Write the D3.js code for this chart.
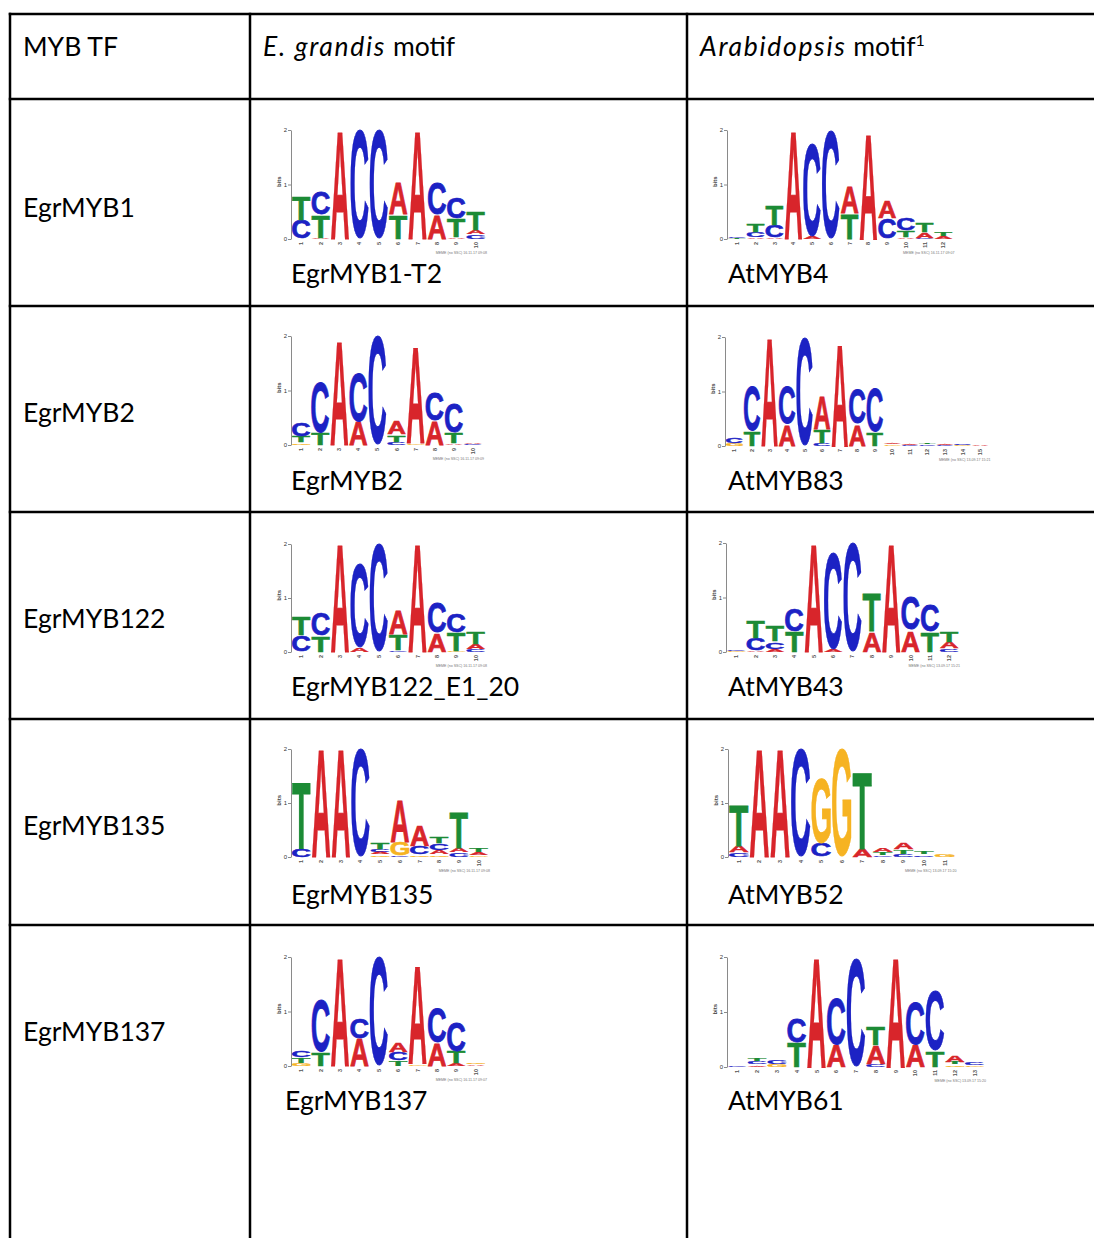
<!DOCTYPE html>
<html>
<head>
<meta charset="utf-8">
<script src="https://cdn.jsdelivr.net/npm/d3@7"></script>
<style>
  body { margin: 0; background: #fff; }
  svg { display: block; }
  .cell-text { font-family: Lato, "Open Sans", sans-serif; font-size: 26.5px; fill: #000; }
  .cell-text .it { font-style: italic; letter-spacing: 1.7px; }
  .logo .axis path, .logo .axis line { stroke: #8a8a8a; }
  .logo .axis text { font-family: "Liberation Sans", Arial, sans-serif; font-size: 6px; fill: #333; }
</style>
</head>
<body>
<script>
// table text
const rowNames = ["EgrMYB1", "EgrMYB2", "EgrMYB122", "EgrMYB135", "EgrMYB137"];
const egrMotifNames = ["EgrMYB1-T2", "EgrMYB2", "EgrMYB122_E1_20", "EgrMYB135", "EgrMYB137"];
const atMotifNames = ["AtMYB4", "AtMYB83", "AtMYB43", "AtMYB52", "AtMYB61"];
const bitTicks = [0, 1, 2];

// motif columns, letters listed bottom -> top with height in bits
const egrMYB1T2 = [
  [["C", 0.35], ["T", 0.43]],
  [["A", 0.02], ["T", 0.42], ["C", 0.43]],
  [["A", 2.0]],
  [["C", 2.0]],
  [["C", 2.0]],
  [["T", 0.45], ["A", 0.58]],
  [["A", 2.0]],
  [["A", 0.45], ["C", 0.6]],
  [["A", 0.03], ["T", 0.35], ["C", 0.4]],
  [["C", 0.08], ["A", 0.08], ["T", 0.34]]
];
const atMYB4 = [
  [["T", 0.02], ["C", 0.03]],
  [["A", 0.03], ["C", 0.1], ["T", 0.15]],
  [["A", 0.03], ["C", 0.22], ["T", 0.37]],
  [["A", 2.0]],
  [["A", 0.05], ["C", 1.7]],
  [["C", 1.98]],
  [["T", 0.47], ["A", 0.49]],
  [["A", 1.95]],
  [["C", 0.38], ["A", 0.32]],
  [["A", 0.03], ["T", 0.12], ["C", 0.23]],
  [["C", 0.02], ["A", 0.1], ["T", 0.18]],
  [["A", 0.05], ["T", 0.07]]
];
const egrMYB2 = [
  [["G", 0.04], ["T", 0.12], ["C", 0.26]],
  [["T", 0.22], ["C", 0.94]],
  [["A", 1.93]],
  [["A", 0.43], ["C", 0.91]],
  [["C", 2.0]],
  [["C", 0.05], ["T", 0.14], ["A", 0.24]],
  [["G", 0.03], ["A", 1.77]],
  [["A", 0.45], ["C", 0.52]],
  [["A", 0.03], ["T", 0.2], ["C", 0.55]],
  [["C", 0.02], ["A", 0.03]]
];
const atMYB83 = [
  [["G", 0.05], ["C", 0.1]],
  [["T", 0.28], ["C", 0.84]],
  [["A", 2.0]],
  [["A", 0.4], ["C", 0.69]],
  [["C", 1.98]],
  [["C", 0.05], ["T", 0.25], ["A", 0.6]],
  [["A", 1.87]],
  [["A", 0.4], ["C", 0.65]],
  [["T", 0.26], ["C", 0.8]],
  [["G", 0.03], ["A", 0.04]],
  [["C", 0.02], ["A", 0.04]],
  [["C", 0.03], ["T", 0.04]],
  [["C", 0.02], ["A", 0.04]],
  [["G", 0.02], ["C", 0.04]],
  [["A", 0.03]]
];
const egrMYB122 = [
  [["C", 0.3], ["T", 0.35]],
  [["T", 0.3], ["C", 0.42]],
  [["A", 2.0]],
  [["A", 0.08], ["C", 1.55]],
  [["C", 2.0]],
  [["C", 0.03], ["T", 0.3], ["A", 0.44]],
  [["A", 2.0]],
  [["A", 0.35], ["C", 0.58]],
  [["G", 0.02], ["T", 0.34], ["C", 0.35]],
  [["C", 0.05], ["A", 0.1], ["T", 0.22]]
];
const atMYB43 = [
  [["G", 0.02], ["C", 0.03]],
  [["A", 0.03], ["C", 0.22], ["T", 0.32]],
  [["A", 0.05], ["C", 0.14], ["T", 0.3]],
  [["T", 0.38], ["C", 0.42]],
  [["A", 2.0]],
  [["A", 0.05], ["C", 1.78]],
  [["C", 2.0]],
  [["A", 0.37], ["T", 0.7]],
  [["A", 2.0]],
  [["A", 0.4], ["C", 0.61]],
  [["T", 0.37], ["C", 0.49]],
  [["C", 0.06], ["A", 0.12], ["T", 0.2]]
];
const egrMYB135 = [
  [["C", 0.15], ["T", 1.24]],
  [["A", 2.0]],
  [["A", 2.0]],
  [["C", 2.0]],
  [["G", 0.04], ["A", 0.05], ["C", 0.05], ["T", 0.12]],
  [["C", 0.02], ["G", 0.26], ["A", 0.77]],
  [["G", 0.04], ["C", 0.16], ["A", 0.4]],
  [["G", 0.04], ["A", 0.08], ["C", 0.14], ["T", 0.12]],
  [["C", 0.08], ["A", 0.08], ["T", 0.65]],
  [["G", 0.03], ["A", 0.06], ["T", 0.08]]
];
const atMYB52 = [
  [["C", 0.08], ["A", 0.12], ["T", 0.75]],
  [["A", 2.0]],
  [["A", 2.0]],
  [["C", 2.0]],
  [["C", 0.25], ["G", 1.2]],
  [["G", 2.0]],
  [["A", 0.15], ["T", 1.42]],
  [["C", 0.03], ["T", 0.05], ["A", 0.08]],
  [["C", 0.05], ["T", 0.09], ["A", 0.13]],
  [["C", 0.04], ["T", 0.05]],
  [["G", 0.06]]
];
const egrMYB137 = [
  [["G", 0.05], ["T", 0.1], ["C", 0.13]],
  [["T", 0.25], ["C", 0.95]],
  [["A", 2.0]],
  [["A", 0.5], ["C", 0.38]],
  [["C", 2.0]],
  [["T", 0.1], ["C", 0.15], ["A", 0.18]],
  [["G", 0.03], ["A", 1.8]],
  [["A", 0.42], ["C", 0.63]],
  [["A", 0.05], ["T", 0.22], ["C", 0.55]],
  [["A", 0.03], ["G", 0.04]]
];
const atMYB61 = [
  [["C", 0.01]],
  [["A", 0.04], ["C", 0.06], ["T", 0.06]],
  [["G", 0.05], ["C", 0.08]],
  [["T", 0.45], ["C", 0.43]],
  [["A", 2.0]],
  [["A", 0.4], ["C", 0.84]],
  [["C", 1.95]],
  [["C", 0.05], ["A", 0.35], ["T", 0.33]],
  [["A", 2.0]],
  [["A", 0.4], ["C", 0.78]],
  [["T", 0.3], ["C", 1.1]],
  [["G", 0.04], ["T", 0.05], ["A", 0.12]],
  [["G", 0.03], ["C", 0.06]]
];
const stampTexts = [
  "MEME (no SSC) 16.11.17 09:08", "MEME (no SSC) 16.11.17 09:07",
  "MEME (no SSC) 16.11.17 09:09", "MEME (no SSC) 13.09.17 15:21",
  "MEME (no SSC) 16.11.17 09:08", "MEME (no SSC) 13.09.17 15:21",
  "MEME (no SSC) 16.11.17 09:08", "MEME (no SSC) 13.09.17 15:20",
  "MEME (no SSC) 16.11.17 09:07", "MEME (no SSC) 13.09.17 15:20"
];

const letterColor = { A: "#d8252b", C: "#1c22c4", G: "#f6b322", T: "#1c8b35" };

// layout
const width = 1094, height = 1238;
const hLines = [14, 99, 306, 512, 719, 925];
const vLines = [10, 250, 687];
const rowBaselines = [217, 422, 628, 835, 1041];
const motifBaselines = [283, 490, 696, 904, 1110];
const egrLabelX = [291, 291, 291, 291, 285];

const logos = [
  { cols: egrMYB1T2, axisX: 291, y2: 130, y0: 239, cw: 19.3 },
  { cols: atMYB4, axisX: 727, y2: 130, y0: 239, cw: 18.7 },
  { cols: egrMYB2, axisX: 291, y2: 336, y0: 445, cw: 19.0 },
  { cols: atMYB83, axisX: 725, y2: 337, y0: 446, cw: 17.5 },
  { cols: egrMYB122, axisX: 291, y2: 544, y0: 652, cw: 19.3 },
  { cols: atMYB43, axisX: 726, y2: 543, y0: 652, cw: 19.3, clipTo: 960 },
  { cols: egrMYB135, axisX: 291, y2: 749, y0: 857, cw: 19.6 },
  { cols: atMYB52, axisX: 728, y2: 749, y0: 857, cw: 20.5 },
  { cols: egrMYB137, axisX: 291, y2: 957, y0: 1066, cw: 19.3 },
  { cols: atMYB61, axisX: 727, y2: 957, y0: 1067, cw: 19.7 }
];

const svg = d3.select("body").append("svg")
  .attr("width", width)
  .attr("height", height);

// glyph ink boxes, so each letter can be stretched to its exact cell
const measureCtx = document.createElement("canvas").getContext("2d");
measureCtx.font = "bold 100px 'Liberation Sans'";
const ink = {};
Object.keys(letterColor).forEach(ch => {
  const m = measureCtx.measureText(ch);
  ink[ch] = {
    l: m.actualBoundingBoxLeft, r: m.actualBoundingBoxRight,
    a: m.actualBoundingBoxAscent, d: m.actualBoundingBoxDescent
  };
});

function drawLetter(g, ch, x0, yTop, w, h) {
  if (h <= 0) return;
  const b = ink[ch];
  // stroke adds ~0.35px each side, shrink the box a touch
  const pad = h > 2 ? 0.35 : 0;
  const sx = (w - 2 * pad) / (b.l + b.r), sy = Math.max(h - 2 * pad, 0.2) / (b.a + b.d);
  g.append("text")
    .attr("transform", `translate(${x0 + pad},${yTop + pad}) scale(${sx},${sy}) translate(${b.l},${b.a})`)
    .attr("font-family", "'Liberation Sans', Arial, sans-serif")
    .attr("font-weight", "bold")
    .attr("font-size", 100)
    .attr("fill", letterColor[ch])
    .attr("stroke", h > 2 ? letterColor[ch] : "none")
    .attr("stroke-width", 0.7)
    .attr("vector-effect", "non-scaling-stroke")
    .text(ch);
}

function drawLogo(L, i) {
  const n = L.cols.length;
  const g = svg.append("g").attr("class", "logo");
  const x = d3.scaleBand()
    .domain(d3.range(1, n + 1))
    .range([L.axisX + 1, L.axisX + 1 + n * L.cw])
    .paddingInner(0.04);
  const y = d3.scaleLinear().domain([0, 2]).range([L.y0, L.y2]);

  const letters = g.append("g");
  if (L.clipTo) {
    const id = "clip" + i;
    g.append("clipPath").attr("id", id).append("rect")
      .attr("x", L.axisX).attr("y", L.y2 - 5)
      .attr("width", L.clipTo - L.axisX).attr("height", L.y0 - L.y2 + 10);
    letters.attr("clip-path", `url(#${id})`);
  }

  L.cols.forEach((col, ci) => {
    let acc = 0;
    col.forEach(([ch, bits]) => {
      const yb = y(acc), yt = y(acc + bits);
      drawLetter(letters, ch, x(ci + 1), yt, x.bandwidth(), yb - yt);
      acc += bits;
    });
  });

  g.append("g")
    .attr("class", "axis")
    .attr("transform", `translate(${L.axisX},0)`)
    .call(d3.axisLeft(y).tickValues(bitTicks).tickFormat(d3.format("d"))
      .tickSize(3).tickSizeOuter(0).tickPadding(1))
    .call(a => a.select(".domain").attr("stroke-width", 1));

  g.append("text")
    .attr("transform", `translate(${L.axisX - 10},${y(1.05)}) rotate(-90)`)
    .attr("text-anchor", "middle")
    .attr("font-family", "'Liberation Sans', Arial, sans-serif")
    .attr("font-weight", "bold")
    .attr("font-size", 6)
    .attr("fill", "#444")
    .text("bits");

  // position numbers
  g.append("g").selectAll("text")
    .data(d3.range(1, n + 1))
    .join("text")
    .attr("transform", d => `translate(${x(d) + x.bandwidth() / 2 + 2},${L.y0 + 3}) rotate(-90)`)
    .attr("text-anchor", "end")
    .attr("font-family", "'Liberation Sans', Arial, sans-serif")
    .attr("font-weight", "bold")
    .attr("font-size", 5.5)
    .attr("fill", "#555")
    .text(d => d);

  g.append("text")
    .attr("x", L.clipTo ? L.clipTo : x.range()[1] + 2)
    .attr("y", L.y0 + 15)
    .attr("text-anchor", "end")
    .attr("font-family", "'Liberation Sans', Arial, sans-serif")
    .attr("font-size", 3.6)
    .attr("fill", "#777")
    .text(stampTexts[i]);
}

logos.forEach(drawLogo);

// table grid
svg.append("g").selectAll("line")
  .data(hLines)
  .join("line")
  .attr("x1", vLines[0] - 1.25).attr("x2", width)
  .attr("y1", d => d).attr("y2", d => d)
  .attr("stroke", "#000").attr("stroke-width", 2.5);

svg.append("g").selectAll("line")
  .data(vLines)
  .join("line")
  .attr("x1", d => d).attr("x2", d => d)
  .attr("y1", hLines[0] - 1.25).attr("y2", height)
  .attr("stroke", "#000").attr("stroke-width", 2.5);

// header
const header = svg.append("g");
header.append("text").attr("class", "cell-text").attr("x", 23).attr("y", 56).text("MYB TF");
const h2 = header.append("text").attr("class", "cell-text").attr("x", 263).attr("y", 56);
h2.append("tspan").attr("class", "it").text("E. grandis");
h2.append("tspan").text(" motif");
const h3 = header.append("text").attr("class", "cell-text").attr("x", 700).attr("y", 56);
h3.append("tspan").attr("class", "it").text("Arabidopsis");
h3.append("tspan").text(" motif");
h3.append("tspan").attr("font-size", 16).attr("dy", -10).text("1");

// rows
svg.append("g").selectAll("text")
  .data(rowNames)
  .join("text")
  .attr("class", "cell-text")
  .attr("x", 23)
  .attr("y", (d, i) => rowBaselines[i])
  .text(d => d);

svg.append("g").selectAll("text")
  .data(egrMotifNames)
  .join("text")
  .attr("class", "cell-text")
  .attr("x", (d, i) => egrLabelX[i])
  .attr("y", (d, i) => motifBaselines[i])
  .text(d => d);

svg.append("g").selectAll("text")
  .data(atMotifNames)
  .join("text")
  .attr("class", "cell-text")
  .attr("x", 728)
  .attr("y", (d, i) => motifBaselines[i])
  .text(d => d);
</script>
</body>
</html>
